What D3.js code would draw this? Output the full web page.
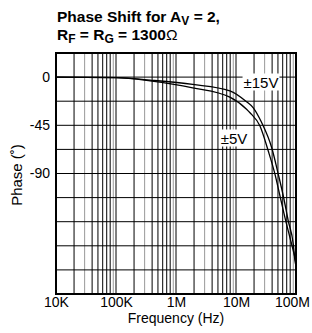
<!DOCTYPE html>
<html><head><meta charset="utf-8">
<script src="https://cdn.jsdelivr.net/npm/d3@7/dist/d3.min.js"></script>
<style>body{margin:0;background:#fff}svg{display:block}text{font-family:"Liberation Sans",Arial,sans-serif}</style>
</head><body><svg id="c" width="312" height="333"></svg>
<script>
const xTickValues = [1e4, 1e5, 1e6, 1e7, 1e8];
const xTickLabels = ["10K", "100K", "1M", "10M", "100M"];
const yTickValues = [0, -45, -90];
const yTickLabels = ["0", "-45", "-90"];
const yGridValues = [22.5, 0, -22.5, -45, -67.5, -90, -112.5, -135, -157.5, -180, -202.5];
const freq15 = [1e4, 1e5, 3.7e5, 1.9e6, 7.9e6, 1.5e7, 1.94e7, 2.65e7, 3.94e7, 5.07e7, 6.14e7, 7.44e7, 9.02e7, 9.62e7, 1e8];
const phase15 = [0, -0.5, -2.8, -6.8, -12.8, -23, -28.7, -42, -66, -90.8, -111, -134.4, -156.2, -171.8, -176];
const freq5 = [1e4, 1e5, 3.7e5, 1.9e6, 7.9e6, 1.5e7, 1.71e7, 2.51e7, 3.45e7, 4.47e7, 5.41e7, 6.56e7, 7.94e7, 9.62e7, 1e8];
const phase5 = [0, -0.5, -3.5, -10, -18.7, -30, -33.3, -45.7, -69, -90.8, -111, -131.4, -150, -168.7, -173];

const svg = d3.select("#c");
const L = 56, R = 296, T = 53, B = 294;
const x = d3.scaleLog().domain([1e4, 1e8]).range([L, R]);
const y = d3.scaleLinear().domain([22.5, -202.5]).range([T, B]);

// vertical grid
const minor = [];
for (let d = 1e4; d < 1e8; d *= 10) for (let m = 1; m <= 9; m++) minor.push({f: d * m, m});
svg.append("g").selectAll("line").data(minor.filter(o => o.f > 1e4)).join("line")
  .attr("x1", o => x(o.f)).attr("x2", o => x(o.f)).attr("y1", T).attr("y2", B)
  .attr("stroke", o => (o.m === 3 || o.m === 9) ? "#999" : "#000").attr("stroke-width", 1);
// horizontal grid
svg.append("g").selectAll("line").data(yGridValues).join("line")
  .attr("x1", L).attr("x2", R).attr("y1", d => y(d)).attr("y2", d => y(d))
  .attr("stroke", "#000").attr("stroke-width", 1);
// border
svg.append("rect").attr("x", L).attr("y", T).attr("width", R - L).attr("height", B - T)
  .attr("fill", "none").attr("stroke", "#000").attr("stroke-width", 2);

// curves
const line = d3.line().x(d => x(d[0])).y(d => y(d[1])).curve(d3.curveMonotoneX);
[[freq15, phase15], [freq5, phase5]].forEach(([f, p]) => {
  svg.append("path").datum(f.map((v, i) => [v, p[i]])).attr("d", line)
    .attr("fill", "none").attr("stroke", "#000").attr("stroke-width", 1.3);
});

// labels with white box
function boxLabel(txt, cx, cy) {
  const g = svg.append("g");
  const t = g.append("text").attr("x", cx).attr("y", cy).attr("text-anchor", "middle")
    .attr("dominant-baseline", "central").attr("font-size", 15).text(txt);
  const bb = t.node().getBBox();
  g.insert("rect", "text").attr("x", bb.x - 1).attr("y", bb.y).attr("width", bb.width + 2)
    .attr("height", bb.height).attr("fill", "#fff");
}
boxLabel("±15V", 261, 82);
boxLabel("±5V", 234, 138);

// axes labels
const xa = d3.axisBottom(x).tickValues(xTickValues).tickFormat((d, i) => xTickLabels[i]).tickSize(0).tickPadding(3);
const gx = svg.append("g").attr("transform", `translate(0,${B})`).call(xa);
gx.select(".domain").remove();
gx.selectAll("text").attr("font-size", 14).attr("fill", "#000").attr("font-family", "Liberation Sans, Arial, sans-serif");
gx.selectAll("text").filter((d) => d === 1e8).attr("dx", -4);
const ya = d3.axisLeft(y).tickValues(yTickValues).tickFormat((d, i) => yTickLabels[i]).tickSize(0).tickPadding(6);
const gy = svg.append("g").attr("transform", `translate(${L},0)`).call(ya);
gy.select(".domain").remove();
gy.selectAll("text").attr("font-size", 14).attr("fill", "#000").attr("font-family", "Liberation Sans, Arial, sans-serif");

svg.append("text").attr("x", 176).attr("y", 323).attr("text-anchor", "middle").attr("font-size", 14).text("Frequency (Hz)");
svg.append("text").attr("transform", "translate(22,175) rotate(-90)").attr("text-anchor", "middle").attr("font-size", 15).text("Phase (˚)");

// title
const t1 = svg.append("text").attr("x", 57).attr("y", 22).attr("font-size", 15.5).attr("font-weight", "bold");
t1.append("tspan").text("Phase Shift for A");
t1.append("tspan").attr("font-size", 12).attr("dy", 3).text("V");
t1.append("tspan").attr("dy", -3).text(" = 2,");
const t2 = svg.append("text").attr("x", 57).attr("y", 40).attr("font-size", 15.5).attr("font-weight", "bold");
t2.append("tspan").text("R");
t2.append("tspan").attr("font-size", 12).attr("dy", 3).text("F");
t2.append("tspan").attr("dy", -3).text(" = R");
t2.append("tspan").attr("font-size", 12).attr("dy", 3).text("G");
t2.append("tspan").attr("dy", -3).text(" = 1300");
t2.append("tspan").attr("font-weight", "normal").text("Ω");
</script></body></html>
